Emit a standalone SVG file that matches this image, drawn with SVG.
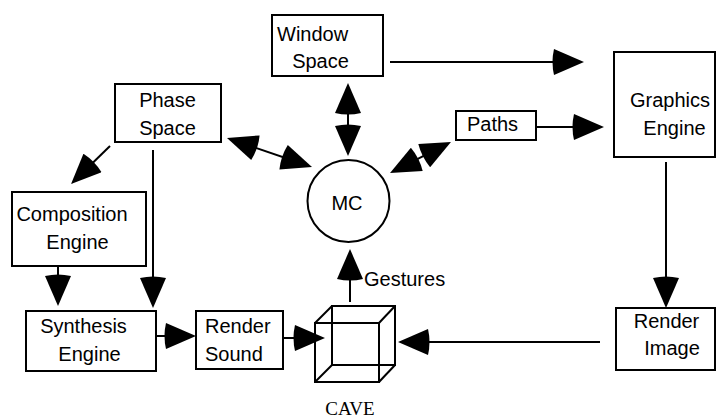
<svg xmlns="http://www.w3.org/2000/svg" width="717" height="420" viewBox="0 0 717 420">
<defs>
<marker id="ah" viewBox="-3 0 33 26" markerWidth="33" markerHeight="26" refX="26" refY="13" markerUnits="userSpaceOnUse" orient="auto-start-reverse">
<path d="M0,0 L30,13 L0,26 Q-3,13 0,0 z" fill="#000"/>
</marker>
<style>
.box{fill:#fff;stroke:#000;stroke-width:2}
.t{font-family:"Liberation Sans",Arial,sans-serif;font-size:20px;fill:#000}
.c{stroke:#000;stroke-width:2;fill:none}
.a{marker-end:url(#ah)}
.d{marker-start:url(#ah);marker-end:url(#ah)}
</style>
</defs>
<rect width="717" height="420" fill="#fff"/>
<g id="connectors">
<line class="c a" x1="390" y1="62" x2="580" y2="62"/>
<line class="c a" x1="536" y1="127" x2="600" y2="127"/>
<line class="c d" x1="348" y1="87" x2="348" y2="152"/>
<line class="c d" x1="230.8" y1="139.3" x2="308.2" y2="165.7"/>
<line class="c d" x1="447.4" y1="143.8" x2="393.6" y2="171.2"/>
<line class="c a" x1="110" y1="146" x2="73.9" y2="181.2"/>
<line class="c a" x1="153" y1="150" x2="153" y2="304"/>
<line class="c a" x1="58" y1="266" x2="58" y2="302"/>
<line class="c a" x1="143" y1="336" x2="192" y2="336"/>
<line class="c a" x1="278" y1="338" x2="321" y2="338"/>
<line class="c a" x1="350" y1="302" x2="350" y2="253"/>
<line class="c a" x1="666" y1="162" x2="666" y2="304"/>
<line class="c a" x1="600" y1="342" x2="402" y2="342"/>
</g>
<g id="window-space">
<rect class="box" x="272" y="15" width="111" height="61"/>
<text class="t" x="277" y="41">Window</text>
<text class="t" x="320.5" y="68" text-anchor="middle">Space</text>
</g>
<g id="phase-space">
<rect class="box" x="115" y="84" width="106" height="58"/>
<text class="t" x="167.5" y="107" text-anchor="middle">Phase</text>
<text class="t" x="167.5" y="135" text-anchor="middle">Space</text>
</g>
<g id="paths">
<rect class="box" x="456" y="111" width="80" height="29"/>
<text class="t" x="492.5" y="131" text-anchor="middle">Paths</text>
</g>
<g id="graphics-engine">
<rect class="box" x="614" y="52" width="101" height="105"/>
<text class="t" x="670" y="107" text-anchor="middle">Graphics</text>
<text class="t" x="674.5" y="135" text-anchor="middle">Engine</text>
</g>
<g id="mc">
<circle cx="348.5" cy="201" r="41" fill="#fff" stroke="#000" stroke-width="2"/>
<text class="t" x="347" y="210" text-anchor="middle">MC</text>
</g>
<g id="composition-engine">
<rect class="box" x="12" y="192" width="134" height="74"/>
<text class="t" x="72" y="221" text-anchor="middle">Composition</text>
<text class="t" x="77.5" y="249" text-anchor="middle">Engine</text>
</g>
<g id="synthesis-engine">
<rect class="box" x="26" y="311" width="130" height="60"/>
<text class="t" x="83.5" y="333" text-anchor="middle">Synthesis</text>
<text class="t" x="89.5" y="361" text-anchor="middle">Engine</text>
</g>
<g id="render-sound">
<rect class="box" x="196" y="311" width="87" height="58"/>
<text class="t" x="205" y="333">Render</text>
<text class="t" x="205" y="361">Sound</text>
</g>
<g id="render-image">
<rect class="box" x="616" y="308" width="99" height="62"/>
<text class="t" x="666.5" y="328" text-anchor="middle">Render</text>
<text class="t" x="672" y="355" text-anchor="middle">Image</text>
</g>
<g id="cave" fill="none" stroke="#000" stroke-width="2">
<rect x="332" y="306" width="63" height="59"/>
<rect x="315" y="323" width="64" height="59"/>
<line x1="315" y1="323" x2="332" y2="306"/>
<line x1="379" y1="323" x2="395" y2="306"/>
<line x1="315" y1="382" x2="332" y2="365"/>
<line x1="379" y1="382" x2="395" y2="365"/>
<text x="350" y="415" text-anchor="middle" stroke="none" fill="#000" style="font-family:'Liberation Serif','Times New Roman',serif;font-size:19px">CAVE</text>
</g>
<g id="gestures-label">
<text class="t" x="364" y="286">Gestures</text>
</g>
</svg>
